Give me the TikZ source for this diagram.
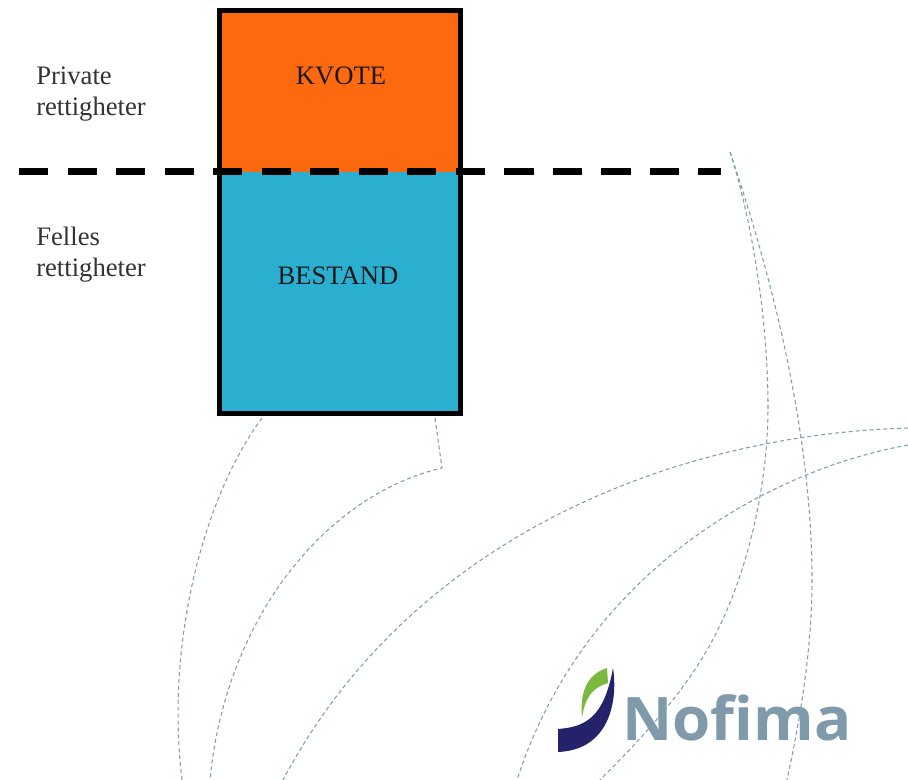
\documentclass[tikz,border=0pt]{standalone}
\usepackage{fontspec}
\setmainfont{Liberation Serif}
\newfontfamily\logofont[FakeStretch=1.03]{Open Sans}
\definecolor{kvotefill}{RGB}{252,105,15}
\definecolor{bestandfill}{RGB}{43,175,208}
\definecolor{arcblue}{RGB}{127,158,176}
\definecolor{logogrey}{RGB}{127,155,171}
\definecolor{logonavy}{RGB}{36,35,105}
\definecolor{logogreen}{RGB}{122,184,62}
\tikzset{
	partbox/.style={minimum width=180.75pt,inner sep=0pt,outer sep=0pt},
	boxtext/.style={font=\fontsize{20}{24}\selectfont,text=black!90,inner sep=0pt,anchor=base},
	sidetext/.style={font=\fontsize{20}{23.25}\selectfont,text=black!80,align=left,inner sep=0pt,anchor=west},
	arcline/.style={arcblue,line width=0.8pt,dash pattern=on 3pt off 2.2pt}
}

\begin{document}
\begin{tikzpicture}[x=0.75pt,y=-0.75pt]
	\useasboundingbox (0,0) rectangle (908,780);
	% background arcs
	\draw[arcline] (262,418) .. controls (205,495) and (165,640) .. (182,780);
	\draw[arcline] (435,418) -- (442,468) .. controls (325,495) and (225,620) .. (210,780);
	\draw[arcline] (908,428) .. controls (670,435) and (410,540) .. (283,780);
	\draw[arcline] (908,445) .. controls (770,470) and (585,570) .. (517,780);
	\draw[arcline] (730,152) .. controls (752,220) and (768,320) .. (768,407)
		.. controls (768,490) and (745,585) .. (707,650)
		.. controls (680,697) and (640,740) .. (600,780);
	\draw[arcline] (730,152) .. controls (770,270) and (812,430) .. (812,580)
		.. controls (812,650) and (800,720) .. (787,780);
	% boxes
	\node[partbox,fill=kvotefill,minimum height=120.75pt,anchor=north west] (kvote) at (219.5,11) {};
	\node[partbox,fill=bestandfill,minimum height=181.5pt,anchor=north] (bestand) at (kvote.south) {};
	\draw[line width=3.75pt] (kvote.north west) rectangle (bestand.south east);
	\node[boxtext] (kvotetext) at (341,85) {KVOTE};
	\node[boxtext] (bestandtext) at (338,285) {BESTAND};
	\node[sidetext] (private) at (36,94) {Private\\rettigheter};
	\node[sidetext] (felles) at (36,255) {Felles\\rettigheter};
	% divider
	\coordinate (divstart) at (19,172);
	\coordinate (divend) at (721,172);
	\draw[line width=5.25pt,dash pattern=on 21.9pt off 14.5pt] (divstart) -- (divend);
	% logo
	\fill[logonavy] (558,729) .. controls (585,727) and (604,718) .. (613,668) .. controls (618,700) and (610,750) .. (558,752) -- cycle;
	\fill[logogreen] (607,668) -- (608,683) .. controls (595,687) and (585,695) .. (582,718) .. controls (580,695) and (585,675) .. (607,668) -- cycle;
	\node[font=\logofont\bfseries\fontsize{45}{45}\selectfont,text=logogrey,inner sep=0pt,anchor=base west] (nofima) at (622,740) {Nofima};
\end{tikzpicture}
\end{document}
